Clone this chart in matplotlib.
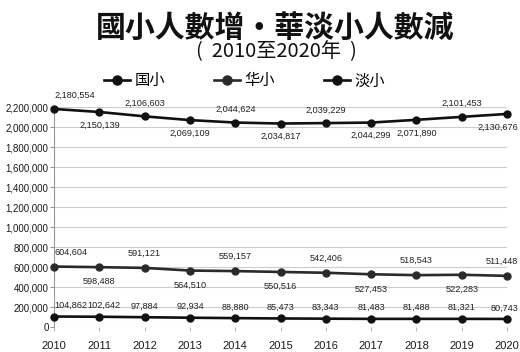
import matplotlib
matplotlib.use("Agg")
import matplotlib.pyplot as plt
from matplotlib.ticker import FuncFormatter, MultipleLocator

plt.rcParams['font.family'] = ['Noto Sans CJK TC', 'DejaVu Sans']

years = [2010, 2011, 2012, 2013, 2014, 2015, 2016, 2017, 2018, 2019, 2020]
guoxiao = [2180554, 2150139, 2106603, 2069109, 2044624, 2034817, 2039229, 2044299, 2071890, 2101453, 2130676]
huaxiao = [604604, 598488, 591121, 564510, 559157, 550516, 542406, 527453, 518543, 522283, 511448]
danxiao = [104862, 102642, 97884, 92934, 88880, 85473, 83343, 81483, 81488, 81321, 80743]
series_names = ['国小', '华小', '淡小']
# label placement: 1 above, -1 below
guo_pos = [1, -1, 1, -1, 1, -1, 1, -1, -1, 1, -1]
hua_pos = [1, -1, 1, -1, 1, -1, 1, -1, 1, -1, 1]
dan_pos = [1] * 11

fig = plt.figure(figsize=(5.2, 3.52), dpi=100)
ax = fig.add_axes([0.104, 0.071, 0.871, 0.625])

narrow = ['Liberation Sans Narrow', 'Liberation Sans', 'DejaVu Sans']
colors = ['#111111', '#2a2a2a', '#111111']
offsets = [9.5, 10.5, 8]
lines = []
for k, (vals, pos, name, c, off) in enumerate(zip([guoxiao, huaxiao, danxiao], [guo_pos, hua_pos, dan_pos], series_names, colors, offsets)):
    ln, = ax.plot(years, vals, color=c, lw=1.9, marker='o', ms=5, clip_on=False, zorder=3, label=name)
    lines.append(ln)
    n = len(years)
    for i, (x, v, p) in enumerate(zip(years, vals, pos)):
        if i == 0:
            dx, ha = 0, 'left'
        elif i == n - 1:
            dx, ha = 8, 'right'
        else:
            dx, ha = 0, 'center'
        if k == 2 and i == 1:
            dx = 3.5
        ax.annotate(f"{v:,}", (x, v), xytext=(dx, off * p), textcoords='offset points',
                    ha=ha, va='center', fontsize=6.6, family=narrow, color='#222222')

ax.set_xlim(2010, 2020)
ax.set_ylim(0, 2200000)
ax.yaxis.set_major_locator(MultipleLocator(200000))
ax.yaxis.set_major_formatter(FuncFormatter(lambda v, p: f"{int(v):,}"))
ax.set_xticks(years)
ax.set_xticklabels([str(y) for y in years])
for lab in ax.get_xticklabels() + ax.get_yticklabels():
    lab.set_family(narrow)
    lab.set_color('#1a1a1a')
ax.tick_params(axis='x', labelsize=8, length=3, color='#bbbbbb', pad=7)
ax.tick_params(axis='y', labelsize=7, length=3, color='#999999', pad=1)
ax.grid(axis='y', color='#cccccc', lw=0.8)
ax.set_axisbelow(True)
for s in ['top', 'right', 'bottom']:
    ax.spines[s].set_visible(False)
ax.spines['left'].set_color('#999999')

fig.text(0.53, 0.92, '國小人數增・華淡小人數減', ha='center', va='center', fontsize=21.5, fontweight='bold', color='#111111')
fig.text(0.532, 0.853, '(  2010至2020年  )', ha='center', va='center', fontsize=14.5, color='#111111')

fig.legend(handles=lines, loc='center', bbox_to_anchor=(0.47, 0.77), ncol=3, frameon=False,
           fontsize=11, handlelength=1.7, columnspacing=3.2, handletextpad=0.3, markerscale=1.3)

fig.savefig('out.png', dpi=100, facecolor='white')
